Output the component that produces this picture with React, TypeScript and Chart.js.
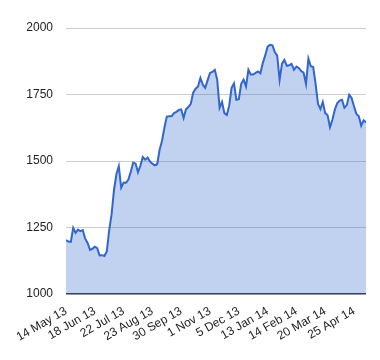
import React, { useEffect, useRef } from "react";
import { Chart, registerables } from "chart.js";

Chart.register(...registerables);

// Closing values, sampled every 2nd trading day (14 May 2013 – early May 2014)
const prices: number[] = [
  1203, 1197, 1196, 1248, 1230, 1242, 1236, 1240, 1208, 1192,
  1166, 1170, 1178, 1172, 1145, 1146, 1143, 1160, 1240, 1300,
  1391, 1450, 1480, 1400, 1419, 1418, 1430, 1460, 1494, 1490,
  1458, 1482, 1515, 1505, 1513, 1498, 1490, 1484, 1488, 1542,
  1575, 1625, 1667, 1668, 1668, 1680, 1685, 1692, 1694, 1662,
  1695, 1703, 1715, 1757, 1772, 1780, 1812, 1787, 1775, 1803,
  1831, 1835, 1843, 1806, 1700, 1722, 1680, 1673, 1708, 1775,
  1792, 1730, 1732, 1790, 1806, 1780, 1843, 1825, 1825, 1831,
  1837, 1830, 1868, 1897, 1930, 1937, 1935, 1910, 1896, 1805,
  1866, 1880, 1858, 1860, 1865, 1843, 1855, 1850, 1838, 1832,
  1790, 1885, 1856, 1853, 1790, 1715, 1695, 1722, 1680, 1672,
  1627, 1655, 1693, 1717, 1727, 1730, 1700, 1710, 1749, 1737,
  1706, 1677, 1668, 1633, 1653, 1645,
];

const tickLabels: string[] = [
  "14 May 13", "18 Jun 13", "22 Jul 13", "23 Aug 13", "30 Sep 13",
  "1 Nov 13", "5 Dec 13", "13 Jan 14", "14 Feb 14", "20 Mar 14", "25 Apr 14",
];
const pointsPerTick = 12;

const yTicks: number[] = [1000, 1250, 1500, 1750, 2000];

export default function App() {
  const ref = useRef<HTMLCanvasElement | null>(null);

  useEffect(() => {
    document.body.style.margin = "0";
    const canvas = ref.current;
    if (!canvas) return;
    const font = { family: "'Liberation Sans', Arial, sans-serif", size: 12 };
    const chart = new Chart(canvas, {
      type: "line",
      data: {
        datasets: [
          {
            data: prices.map((v, i) => ({ x: i, y: v })),
            borderColor: "#3366cc",
            borderWidth: 2,
            backgroundColor: "rgba(51,102,204,0.3)",
            fill: "start",
            pointRadius: 0,
            tension: 0,
          },
        ],
      },
      options: {
        responsive: false,
        animation: false,
        layout: { padding: { top: 28, right: 14, left: 0, bottom: 0 } },
        plugins: { legend: { display: false }, tooltip: { enabled: false } },
        scales: {
          x: {
            type: "linear",
            min: 0,
            max: prices.length - 1,
            grid: { display: false },
            border: { display: false },
            afterBuildTicks: (scale: any) => {
              scale.ticks = tickLabels.map((_, k) => ({ value: k * pointsPerTick }));
            },
            afterFit: (scale: any) => {
              scale.height = 66;
            },
            ticks: {
              autoSkip: false,
              minRotation: 30,
              maxRotation: 30,
              padding: 2,
              color: "#222",
              font,
              callback: (v: any) => {
                const k = Math.round(Number(v) / pointsPerTick);
                return tickLabels[k] ?? "";
              },
            },
          },
          y: {
            min: 1000,
            max: 2000,
            border: { display: false },
            afterBuildTicks: (scale: any) => {
              scale.ticks = yTicks.map((v) => ({ value: v }));
            },
            afterFit: (scale: any) => {
              scale.width = 66;
            },
            grid: {
              drawTicks: false,
              color: (c: any) => (c.tick && c.tick.value === 1000 ? "#333" : "#ccc"),
              lineWidth: (c: any) => (c.tick && c.tick.value === 1000 ? 1.5 : 1),
            },
            ticks: {
              padding: 13,
              color: "#222",
              font,
              callback: (v: any) => String(v),
            },
          },
        },
      },
    });
    return () => chart.destroy();
  }, []);

  return (
    <div style={{ width: 380, height: 360 }}>
      <canvas ref={ref} width={380} height={360} />
    </div>
  );
}
